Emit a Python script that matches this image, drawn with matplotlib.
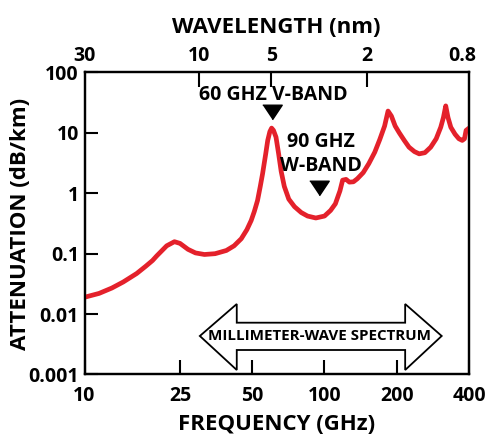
import matplotlib
matplotlib.use("Agg")
import matplotlib.pyplot as plt
from matplotlib.patches import Polygon

plt.rcParams['font.family'] = ['Open Sans', 'DejaVu Sans']
plt.rcParams['font.weight'] = 'bold'

# Atmospheric attenuation vs frequency
freq_ghz = [10, 11.5, 13, 14.5, 16.5, 18, 19.2, 20, 22, 23.7, 25, 27, 29, 31.6, 35,
            39, 42, 45, 47.5, 49.5, 51, 52.6, 54, 55.2, 56.9, 58, 59.2, 60.2, 61.3,
            62.8, 64.4, 66, 68, 71, 75, 80, 85, 92, 100, 106, 111, 116, 119, 123,
            127, 132, 137, 145, 153, 162, 170, 178, 184, 190, 197, 205, 215, 225,
            237, 248, 262, 277, 292, 305, 313, 320, 327, 336, 350, 363, 375, 383,
            389, 400]
atten_db_km = [0.019, 0.022, 0.027, 0.034, 0.047, 0.062, 0.077, 0.092, 0.135,
               0.158, 0.148, 0.118, 0.103, 0.097, 0.10, 0.113, 0.135, 0.177, 0.25,
               0.355, 0.5, 0.76, 1.3, 2.1, 4.5, 7.5, 10.5, 12, 11, 8.5, 4.5, 2.3,
               1.3, 0.8, 0.6, 0.48, 0.42, 0.39, 0.42, 0.52, 0.67, 1.1, 1.65, 1.7,
               1.53, 1.55, 1.74, 2.2, 3.1, 4.8, 7.8, 13, 23, 19, 13, 10, 7.5, 5.8,
               4.9, 4.5, 4.7, 5.8, 8, 12.4, 18, 28, 18, 12.4, 9.5, 8.0, 7.5, 8, 11,
               12]

freq_ticks = [10, 25, 50, 100, 200, 400]
freq_tick_labels = ['10', '25', '50', '100', '200', '400']
atten_ticks = [0.001, 0.01, 0.1, 1, 10, 100]
atten_tick_labels = ['0.001', '0.01', '0.1', '1', '10', '100']
wavelength_mm = [30, 10, 5, 2, 0.8]
wavelength_labels = ['30', '10', '5', '2', '0.8']

band_freqs = [60.5, 95]
band_marker_levels = [22, 1.22]

RED = '#e4212b'
TICK_FS = 14
LABEL_FS = 16

fig = plt.figure(figsize=(4.93, 4.38), dpi=100)
ax = fig.add_axes([0.1714, 0.145, 0.7799, 0.6895])

ax.plot(freq_ghz, atten_db_km, color=RED, lw=3.4, solid_capstyle='round',
        solid_joinstyle='round', zorder=3)

ax.set_xscale('log')
ax.set_yscale('log')
ax.set_xlim(10, 400)
ax.set_ylim(0.001, 100)

ax.set_xticks(freq_ticks, labels=freq_tick_labels)
ax.set_yticks(atten_ticks, labels=atten_tick_labels)
ax.minorticks_off()
ax.tick_params(axis='x', which='major', direction='in', length=10, width=1.5,
               labelsize=TICK_FS, pad=8, top=False)
ax.tick_params(axis='y', which='major', direction='in', length=9.5, width=1.5,
               labelsize=TICK_FS, pad=4, right=False)
for lab in ax.get_xticklabels() + ax.get_yticklabels():
    lab.set_fontweight('bold')
for sp in ax.spines.values():
    sp.set_linewidth(1.6)

ax.set_xlabel('FREQUENCY (GHz)', fontsize=LABEL_FS, fontweight='bold', labelpad=6)
ax.set_ylabel('ATTENUATION (dB/km)', fontsize=LABEL_FS, fontweight='bold', va='center')
ax.yaxis.set_label_coords(-0.166, 0.50)

# Wavelength axis on top: lambda (mm) = 300 / f (GHz)
ax2 = ax.twiny()
ax2.set_xscale('log')
ax2.set_xlim(ax.get_xlim())
wl_pos = [300.0 / w for w in wavelength_mm]
ax2.set_xticks(wl_pos[1:-1], labels=wavelength_labels[1:-1])
ax2.set_xticks([wl_pos[0], wl_pos[-1]], labels=[wavelength_labels[0], wavelength_labels[-1]],
               minor=True)
ax2.tick_params(axis='x', which='major', direction='in', length=11, width=1.5,
                labelsize=TICK_FS, pad=5)
ax2.tick_params(axis='x', which='minor', direction='in', length=0,
                labelsize=TICK_FS, pad=5)
for lab in ax2.get_xticklabels(which='both'):
    lab.set_fontweight('bold')
ax2.set_xlabel('WAVELENGTH (nm)', fontsize=LABEL_FS, fontweight='bold', labelpad=9)
for sp in ax2.spines.values():
    sp.set_linewidth(1.6)

# Band markers and labels
tri = [(-1, 0.75), (1, 0.75), (0, -0.75)]
ax.plot(band_freqs, band_marker_levels, linestyle='none', marker=tri,
        markersize=14, color='black', zorder=4)
ax.text(61, 42, '60 GHZ V-BAND', ha='center', va='center', fontsize=14,
        fontweight='bold')
ax.text(97, 7.1, '90 GHZ', ha='center', va='center', fontsize=14,
        fontweight='bold')
ax.text(97, 2.8, 'W-BAND', ha='center', va='center', fontsize=14,
        fontweight='bold')

# Double-headed arrow marking the millimeter-wave spectrum
x_tip_l, x_base_l, x_base_r, x_tip_r = 0.300, 0.396, 0.834, 0.929
y_mid, y_head_t, y_head_b, y_sh_t, y_sh_b = 0.1275, 0.2334, 0.0149, 0.1715, 0.0811
arrow = Polygon([(x_tip_l, y_mid), (x_base_l, y_head_t), (x_base_l, y_sh_t),
                 (x_base_r, y_sh_t), (x_base_r, y_head_t), (x_tip_r, y_mid),
                 (x_base_r, y_head_b), (x_base_r, y_sh_b), (x_base_l, y_sh_b),
                 (x_base_l, y_head_b)], closed=True, transform=ax.transAxes,
                facecolor='white', edgecolor='black', lw=1.3, zorder=5)
ax.add_patch(arrow)
ax.text((x_tip_l + x_tip_r) / 2 - 0.004, y_mid, 'MILLIMETER-WAVE SPECTRUM',
        transform=ax.transAxes, ha='center', va='center', fontsize=10.9,
        fontweight='bold', zorder=6)

fig.savefig('out.png', dpi=100)
